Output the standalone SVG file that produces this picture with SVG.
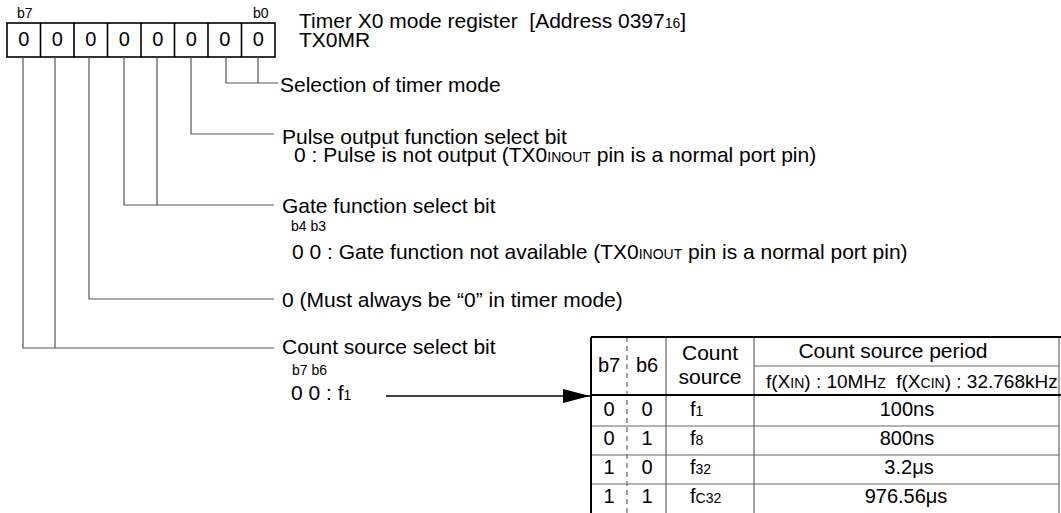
<svg xmlns="http://www.w3.org/2000/svg" width="1061" height="513" viewBox="0 0 1061 513">
<style>
text{font-family:"Liberation Sans",Arial,sans-serif;fill:#000}
.t{font-size:21px}
.s{font-size:14px}
.d{font-size:20px;text-anchor:middle}
.sub{font-size:14px}
.conn{stroke:#555;stroke-width:1.2;fill:none}
.box{fill:#fff;stroke:#000;stroke-width:1.6}
.thick{stroke:#000;stroke-width:2;fill:none}
.thin{stroke:#666;stroke-width:1.2;fill:none}
</style>
<defs>
<marker id="arr" markerWidth="28" markerHeight="14" refX="27" refY="7" orient="auto" markerUnits="userSpaceOnUse">
<path d="M0,0 L27,7 L0,14 Z" fill="#000"/>
</marker>
</defs>
<g id="register">
<text class="s" x="17" y="18">b7</text>
<text class="s" x="253" y="18">b0</text>
<rect class="box" x="7" y="23" width="268" height="34"/>
<path class="box" d="M40.5,23V57M74,23V57M107.5,23V57M141,23V57M174.5,23V57M208,23V57M241.5,23V57"/>
<text class="d" x="23.7" y="46">0</text>
<text class="d" x="57.2" y="46">0</text>
<text class="d" x="90.7" y="46">0</text>
<text class="d" x="124.2" y="46">0</text>
<text class="d" x="157.7" y="46">0</text>
<text class="d" x="191.2" y="46">0</text>
<text class="d" x="224.7" y="46">0</text>
<text class="d" x="258.2" y="46">0</text>
</g>
<g id="title">
<text class="t" x="299" y="28" xml:space="preserve">Timer X0 mode register  [Address 0397<tspan class="sub">16</tspan>]</text>
<text class="t" x="299" y="47">TX0MR</text>
</g>
<g id="connectors">
<path class="conn" d="M226,57V83H278M258,57V83"/>
<path class="conn" d="M191,57V134H274"/>
<path class="conn" d="M124,57V205H274M157,57V205"/>
<path class="conn" d="M89,57V299H274"/>
<path class="conn" d="M23,57V348H274M55,57V348"/>
<line x1="386" y1="396" x2="590" y2="396" stroke="#000" stroke-width="1.4" marker-end="url(#arr)"/>
</g>
<g id="label-b1b0">
<text class="t" x="280" y="92">Selection of timer mode</text>
</g>
<g id="label-b2">
<text class="t" x="282" y="144">Pulse output function select bit</text>
<text class="t" x="294" y="162">0 : Pulse is not output (TX0<tspan class="sub">INOUT</tspan> pin is a normal port pin)</text>
</g>
<g id="label-b4b3">
<text class="t" x="282" y="213">Gate function select bit</text>
<text class="s" x="291" y="231">b4 b3</text>
<text class="t" x="292" y="259">0 0 : Gate function not available (TX0<tspan class="sub">INOUT</tspan> pin is a normal port pin)</text>
</g>
<g id="label-b5">
<text class="t" x="282" y="307">0 (Must always be “0” in timer mode)</text>
</g>
<g id="label-b7b6">
<text class="t" x="282" y="354">Count source select bit</text>
<text class="s" x="292" y="375">b7 b6</text>
<text class="t" x="291" y="400">0 0 : f<tspan class="sub">1</tspan></text>
</g>
<g id="table">
<path class="thin" d="M666,337V513M754,337V513M1059,337V513M754,366H1059M591,426H1059M591,455H1059M591,484H1059"/>
<path d="M627,337V513" stroke="#666" stroke-width="1.2" stroke-dasharray="5,4" fill="none"/>
<path class="thick" d="M591,337H1061M591,337V513M591,395H1061"/>
<text class="d" x="609" y="372">b7</text>
<text class="d" x="647" y="372">b6</text>
<text class="d" x="710" y="360" style="font-size:21px">Count</text>
<text class="d" x="710" y="384" style="font-size:21px">source</text>
<text class="d" x="893" y="358" style="font-size:21px">Count source period</text>
<text x="766" y="388" style="font-size:19px" xml:space="preserve">f(X<tspan class="sub">IN</tspan>) : 10MH<tspan class="sub">Z</tspan>  f(X<tspan class="sub">CIN</tspan>) : 32.768kHz</text>
<text class="d" x="609" y="416">0</text><text class="d" x="647" y="416">0</text>
<text x="690" y="416" style="font-size:20px">f<tspan class="sub">1</tspan></text>
<text class="d" x="907" y="416">100ns</text>
<text class="d" x="609" y="445">0</text><text class="d" x="647" y="445">1</text>
<text x="690" y="445" style="font-size:20px">f<tspan class="sub">8</tspan></text>
<text class="d" x="907" y="445">800ns</text>
<text class="d" x="609" y="474">1</text><text class="d" x="647" y="474">0</text>
<text x="690" y="474" style="font-size:20px">f<tspan class="sub">32</tspan></text>
<text class="d" x="909" y="474">3.2μs</text>
<text class="d" x="609" y="503">1</text><text class="d" x="647" y="503">1</text>
<text x="690" y="503" style="font-size:20px">f<tspan class="sub">C32</tspan></text>
<text class="d" x="906" y="503">976.56μs</text>
</g>
</svg>
